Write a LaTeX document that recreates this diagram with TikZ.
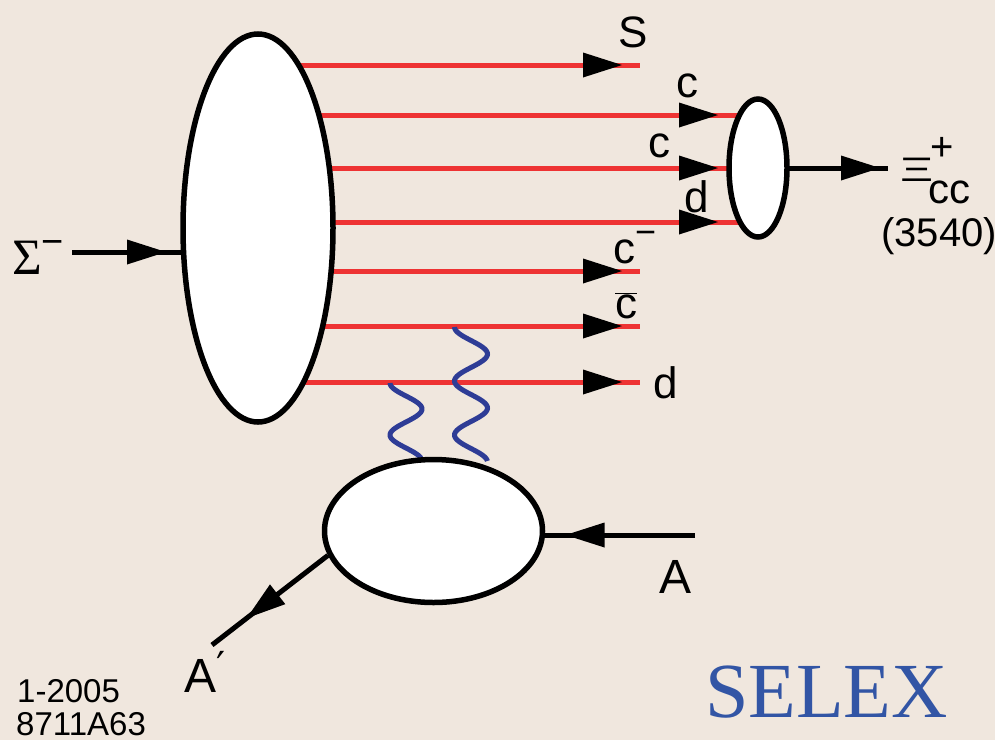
\documentclass[tikz,border=0pt]{standalone}
\usepackage{fontspec}
\usepackage{graphicx}
\setmainfont{Liberation Sans}
\newfontfamily\selexfont{Liberation Serif}
\newfontfamily\symfont{DejaVu Sans}
\usepackage{xcolor}
\usepackage{tikz}
\definecolor{paper}{HTML}{F0E7DE}
\definecolor{quarkred}{HTML}{EE3333}
\definecolor{gluonblue}{HTML}{2E3C96}
\definecolor{selexblue}{HTML}{3255A5}
\usetikzlibrary{arrows.meta,shapes.geometric,decorations.markings}
\pgfdeclarelayer{bg}
\pgfdeclarelayer{lines}
\pgfsetlayers{bg,lines,main}

\begin{document}
\begin{tikzpicture}[x=1pt,y=-1pt,
  blob/.style={ellipse,draw=black,line width=5.5pt,fill=white,inner sep=0pt},
  quark/.style={draw=quarkred,line width=5pt},
  gline/.style={draw=black,line width=5pt},
  gluon/.style={draw=gluonblue,line width=5pt},
  lbl/.style={anchor=base west,inner sep=0pt,font=\fontsize{44}{50}\selectfont},
  tipat/.style={postaction={decorate,decoration={markings,
      mark=at position #1 with {\arrow{Triangle[length=39pt,width=25pt,line width=0pt,color=black,fill=black]}}}}}]
\useasboundingbox (0,0) rectangle (995,740);
\begin{pgfonlayer}{bg}
  \fill[paper] (0,0) rectangle (995,740);
\end{pgfonlayer}

% hadrons
\node[blob,minimum width=150pt,minimum height=388pt] (had) at (258,228) {};
\node[blob,minimum width=58pt,minimum height=138pt] (bar) at (758,168) {};
\node[blob,minimum width=218pt,minimum height=143pt] (nuc) at (433.5,531) {};

% quark labels
\node[lbl] (sLbl) at (618,47) {S};
\node[lbl] (cLbl) at (676,97) {c};
\node[lbl] (c2Lbl) at (648,157) {c};
\node[lbl] (dLbl) at (684,212) {d};
\node[lbl] (cmLbl) at (613,263) {c\raisebox{0.42em}{\fontsize{36}{36}\selectfont −}};
\node[lbl] (cbLbl) at (615,318) {$\overline{\mbox{c}}$};
\node[lbl] (d2Lbl) at (653,398) {d};

\coordinate (sEnd) at (640,65);
\coordinate (cmEnd) at (640,271);
\coordinate (cbEnd) at (640,326);
\coordinate (dEnd) at (640,382);

\begin{pgfonlayer}{lines}
  \draw[quark,tipat=-18pt] (had.center |- sEnd) -- (sEnd);
  \draw[quark,tipat=-40pt] (had.center |- 0,115) -- (bar.center |- 0,115);
  \draw[quark,tipat=-40pt] (had.center |- 0,168) -- (bar.center);
  \draw[quark,tipat=-40pt] (had.center |- 0,222) -- (bar.center |- 0,222);
  \draw[quark,tipat=-18pt] (had.center |- cmEnd) -- (cmEnd);
  \draw[quark,tipat=-18pt] (had.center |- cbEnd) -- (cbEnd);
  \draw[quark,tipat=-18pt] (had.center |- dEnd) -- (dEnd);
  % exchanged gluons
  \draw[gluon] plot[domain=0:75,samples=80,smooth] ({406-16*cos(\x/26*180)},{383+\x});
  \draw[gluon] plot[domain=0:134,samples=120,smooth] ({471-16.5*cos(\x/27*180)},{327+\x});
\end{pgfonlayer}

% beam and target
\node[anchor=base west,inner sep=0pt,font=\selexfont\fontsize{51}{55}\selectfont] (sigLbl) at (12,274)
  {Σ\raisebox{20pt}{\rmfamily\fontsize{38}{38}\selectfont −}};
\coordinate (sigIn) at (72,252);
\coordinate (xiOut) at (888,168);
\coordinate (aIn) at (695,535);
\coordinate (aOut) at (212,645);
\begin{pgfonlayer}{lines}
  \draw[gline,tipat=-92pt] (sigIn) -- (had.center |- sigIn);
  \draw[gline,tipat=-8pt] (bar.center) -- (xiOut);
  \draw[gline,tipat=-132pt] (aIn) -- (nuc.center |- aIn);
  \draw[gline,tipat=0.7] (nuc.193) -- (aOut);
\end{pgfonlayer}

\node[anchor=base west,inner sep=0pt,font=\fontsize{34}{34}\selectfont] (xiLbl) at (900,181) {\scalebox{1.5}[1]{Ξ}};
\node[inner sep=0pt,font=\fontsize{40}{40}\selectfont] (xiPlus) at (942,149) {+};
\node[lbl,font=\fontsize{42}{44}\selectfont] (xiSub) at (928,203) {cc};
\node[lbl,font=\fontsize{40}{44}\selectfont] (xiMass) at (881,246) {(3540)};
\node[lbl,font=\fontsize{48}{50}\selectfont] (aLbl) at (659,593) {A};
\node[lbl,font=\fontsize{48}{50}\selectfont] (apLbl) at (184,692) {A\raisebox{12pt}{\symfont\fontsize{40}{40}\selectfont ′}};

% tags
\node[lbl,font=\fontsize{33}{33}\selectfont] (dateLbl) at (17,702) {1-2005};
\node[lbl,font=\fontsize{33}{33}\selectfont] (figLbl) at (16,735) {8711A63};
\node[lbl,font=\selexfont\fontsize{78}{80}\selectfont,text=selexblue] (selex) at (705,717) {SELEX};
\end{tikzpicture}
\end{document}
